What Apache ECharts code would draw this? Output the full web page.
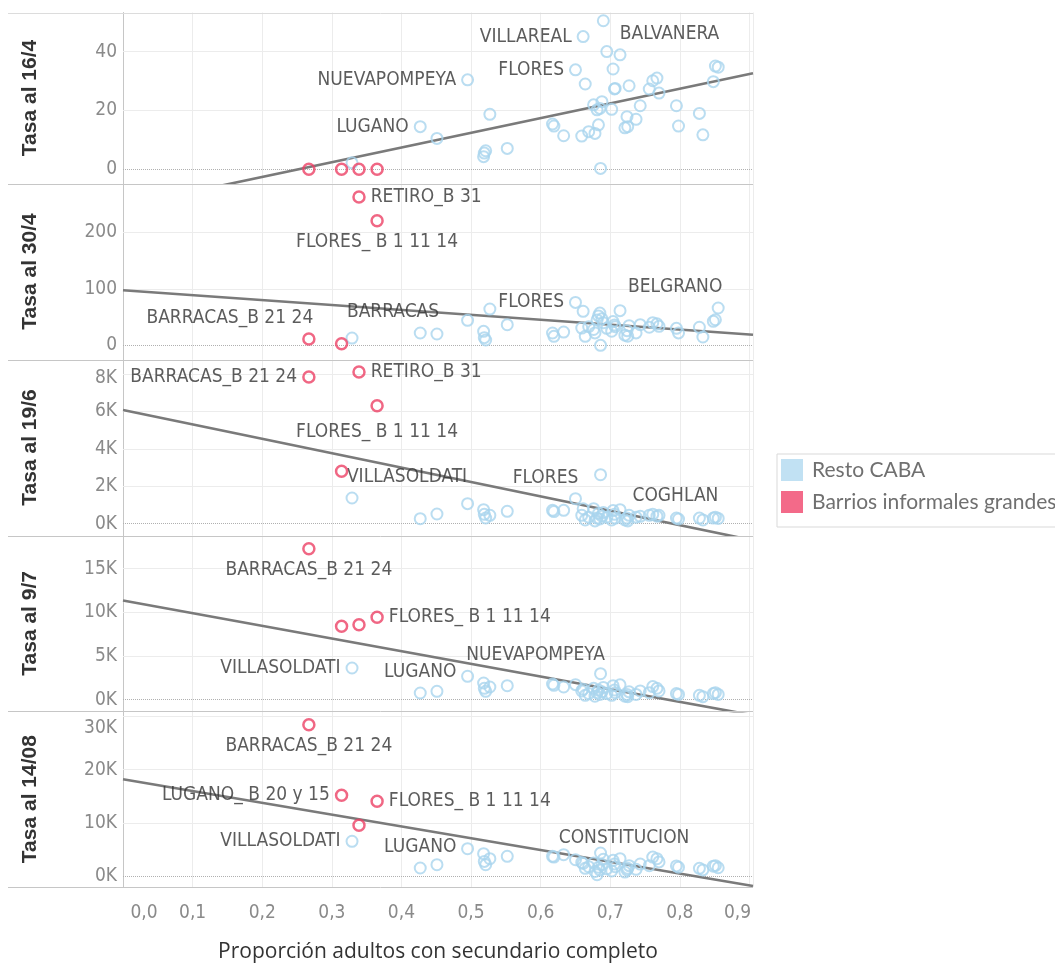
<!DOCTYPE html>
<html>
<head>
<meta charset="utf-8">
<script src="https://cdn.jsdelivr.net/npm/echarts@6/dist/echarts.min.js"></script>
<style>
  html, body { margin: 0; padding: 0; background: #ffffff; }
  #chart { width: 1055px; height: 966px; }
</style>
</head>
<body>
<div id="chart"></div>
<script>
// Proporción de adultos con secundario completo (eje X), por barrio
const proporcionResto = [0.329, 0.427, 0.451, 0.495, 0.518, 0.519, 0.521, 0.527, 0.552, 0.617,
  0.619, 0.633, 0.650, 0.659, 0.661, 0.664, 0.669, 0.676, 0.678, 0.681,
  0.683, 0.685, 0.686, 0.688, 0.690, 0.695, 0.702, 0.704, 0.706, 0.707,
  0.714, 0.721, 0.724, 0.725, 0.727, 0.737, 0.743, 0.756, 0.761, 0.767,
  0.770, 0.795, 0.798, 0.828, 0.833, 0.848, 0.851, 0.855];

// Tasas de casos del resto de CABA en cada fecha
const tasa164Resto = [2.2, 14.5, 10.5, 30.4, 4.3, 5.5, 6.3, 18.7, 7.1, 15.4,
  14.7, 11.4, 33.8, 11.3, 45.1, 29, 12.8, 21.9, 12.2, 20.2,
  15.1, 20.7, 0.3, 23, 50.5, 40, 20.4, 34.1, 27.3, 27.5,
  38.9, 14.1, 17.9, 14.5, 28.4, 17, 21.6, 27.3, 30.1, 31,
  25.9, 21.6, 14.7, 19, 11.7, 29.8, 35.1, 34.7];
const tasa304Resto = [12.9, 21.8, 20, 44.2, 24.7, 13.5, 9.4, 64.2, 36.5, 21.8,
  15.9, 23.5, 76, 30.6, 60.2, 15.9, 33, 28, 22, 45,
  52, 57, 0, 47, 40, 30, 25, 42, 36, 33,
  61.3, 18, 26, 16, 34.7, 22, 36.5, 32, 40, 38,
  33.6, 30, 22, 31.9, 14.7, 42.5, 45.3, 66];
const tasa196Resto = [1374, 267, 519, 1070, 749, 500, 305, 449, 663, 716,
  650, 716, 1337, 450, 800, 200, 350, 802, 150, 300,
  550, 250, 2620, 400, 600, 350, 200, 700, 500, 300,
  749, 200, 300, 150, 450, 350, 396, 450, 500, 400,
  450, 300, 250, 300, 200, 300, 350, 280];
const tasa97Resto = [3627, 767, 961, 2677, 1911, 1300, 961, 1453, 1602, 1796,
  1650, 1453, 1720, 1000, 1200, 500, 700, 1300, 400, 800,
  1100, 600, 2975, 900, 1400, 700, 500, 1600, 1100, 800,
  1700, 400, 600, 350, 900, 600, 1000, 800, 1500, 1300,
  1000, 700, 600, 500, 350, 700, 800, 600];
const tasa1408Resto = [6566, 1557, 2176, 5178, 4240, 2800, 2176, 3302, 3752, 3752,
  3600, 4052, 3115, 2600, 2400, 1500, 1800, 2500, 900, 300,
  1700, 1200, 4371, 2200, 3200, 1400, 1000, 3000, 2300, 1800,
  3300, 800, 1200, 1500, 2000, 1300, 2300, 2000, 3600, 3300,
  2700, 1950, 1700, 1500, 1200, 1900, 2000, 1600];

// Barrios informales grandes
const barriosInformales = ['BARRACAS_B 21 24', 'LUGANO_ B 20 y 15', 'RETIRO_B 31', 'FLORES_ B 1 11 14'];
const proporcionInformales = [0.267, 0.314, 0.339, 0.365];
const tasa164Informales = [0, 0, 0, 0];
const tasa304Informales = [11.2, 2.8, 262.5, 220.5];
const tasa196Informales = [7845, 2802, 8112, 6310];
const tasa97Informales = [17277, 8398, 8581, 9428];
const tasa1408Informales = [28443, 15197, 9568, 14071];

// Rectas de tendencia: valor en x = 0 y en x = 0,9
const tendenciaX = [0, 0.9];
const tendencia164 = [-12.6, 32.4];
const tendencia304 = [97.5, 19.2];
const tendencia196 = [6080, -850];
const tendencia97 = [11350, -1700];
const tendencia1408 = [18200, -1700];

// Títulos de fila y marcas de los ejes
const titulos = ['Tasa al 16/4', 'Tasa al 30/4', 'Tasa al 19/6', 'Tasa al 9/7', 'Tasa al 14/08'];
const marcasY164 = [0, 20, 40];
const marcasY304 = [0, 100, 200];
const marcasY196 = [0, 2000, 4000, 6000, 8000];
const marcasY97 = [0, 5000, 10000, 15000];
const marcasY1408 = [0, 10000, 20000, 30000];
const marcasX = [0, 0.1, 0.2, 0.3, 0.4, 0.5, 0.6, 0.7, 0.8, 0.9];

// Barrios rotulados en cada fila (índice -> nombre)
const rotulosResto = [
  { 1: 'LUGANO', 3: 'NUEVAPOMPEYA', 12: 'FLORES', 14: 'VILLAREAL', 24: 'BALVANERA' },
  { 0: 'BARRACAS', 12: 'FLORES', 47: 'BELGRANO' },
  { 0: 'VILLASOLDATI', 12: 'FLORES', 46: 'COGHLAN' },
  { 0: 'VILLASOLDATI', 1: 'LUGANO', 3: 'NUEVAPOMPEYA' },
  { 0: 'VILLASOLDATI', 1: 'LUGANO', 30: 'CONSTITUCION' }
];
const rotulosInformales = [[], [0, 2, 3], [0, 2, 3], [0, 3], [0, 1, 3]];

// ---------- layout and styling ----------
const NARROW = '"Liberation Sans Narrow", "DejaVu Sans Condensed", "Arial Narrow", sans-serif';
const AZUL = '#a9d4ed';
const ROJO = '#ec4165';
const GRIS_MARCA = '#8a8a8a';
const PLOT_LEFT = 123, PLOT_RIGHT = 753;
const X_MAX = 0.905;
const bordes = [12.5, 183.5, 359.5, 535.5, 711.3, 887];
const rangosY = [[-4.83, 53.3], [-25.1, 286.4], [-631, 8781], [-1327, 18787], [-2007, 30957]];
// top tick label of some rows is nudged down to stay inside its row
const bajarMarcaSuperior = [0, 0, 8, 0, 24];

const filasResto = [tasa164Resto, tasa304Resto, tasa196Resto, tasa97Resto, tasa1408Resto];
const filasInformales = [tasa164Informales, tasa304Informales, tasa196Informales, tasa97Informales, tasa1408Informales];
const filasTendencia = [tendencia164, tendencia304, tendencia196, tendencia97, tendencia1408];
const filasMarcas = [marcasY164, marcasY304, marcasY196, marcasY97, marcasY1408];

const ubicacion = {
  '0:LUGANO': { position: 'left' },
  '0:NUEVAPOMPEYA': { position: 'left' },
  '0:FLORES': { position: 'left' },
  '0:VILLAREAL': { position: 'left' },
  '0:BALVANERA': { position: 'right', offset: [5, 13] },
  '1:BARRACAS': { position: 'top', offset: [41, -5] },
  '1:FLORES': { position: 'left' },
  '1:BELGRANO': { position: 'top', offset: [-43, 0] },
  '1:BARRACAS_B 21 24': { position: 'top', offset: [-79, 0] },
  '1:RETIRO_B 31': { position: 'right' },
  '1:FLORES_ B 1 11 14': { position: 'bottom' },
  '2:VILLASOLDATI': { position: 'top', offset: [55, 0] },
  '2:FLORES': { position: 'top', offset: [-30, 0] },
  '2:COGHLAN': { position: 'top', offset: [-40, 0] },
  '2:BARRACAS_B 21 24': { position: 'left' },
  '2:RETIRO_B 31': { position: 'right' },
  '2:FLORES_ B 1 11 14': { position: 'bottom', offset: [0, 5] },
  '3:VILLASOLDATI': { position: 'left' },
  '3:LUGANO': { position: 'top' },
  '3:NUEVAPOMPEYA': { position: 'top', offset: [68, 0] },
  '3:BARRACAS_B 21 24': { position: 'bottom' },
  '3:FLORES_ B 1 11 14': { position: 'right' },
  '4:VILLASOLDATI': { position: 'left' },
  '4:LUGANO': { position: 'top' },
  '4:CONSTITUCION': { position: 'top', offset: [4, 0] },
  '4:BARRACAS_B 21 24': { position: 'bottom' },
  '4:LUGANO_ B 20 y 15': { position: 'left' },
  '4:FLORES_ B 1 11 14': { position: 'right' }
};

function rotulo(fila, nombre) {
  const u = ubicacion[fila + ':' + nombre] || { position: 'right' };
  return Object.assign({ show: true, formatter: nombre, distance: 5,
    fontFamily: NARROW, fontSize: 19, color: '#333333' }, u);
}

const grid = [], xAxis = [], yAxis = [], series = [];
for (let i = 0; i < 5; i++) {
  const ultima = i === 4;
  const marcas = filasMarcas[i];
  const tope = marcas[marcas.length - 1];
  grid.push({ left: PLOT_LEFT, width: PLOT_RIGHT - PLOT_LEFT, top: bordes[i], height: bordes[i + 1] - bordes[i] });

  xAxis.push({
    gridIndex: i, type: 'value', min: 0, max: X_MAX, interval: 0.1,
    axisLine: { show: false }, axisTick: { show: false },
    splitLine: { show: true, lineStyle: { color: '#ececec', width: 1 } },
    axisLabel: ultima ? {
      show: true, customValues: marcasX, margin: 17,
      formatter: v => {
        const t = v.toFixed(1).replace('.', ',');
        if (v === 0) return '{a|' + t + '}';
        if (Math.abs(v - 0.9) < 1e-9) return '{z|' + t + '}';
        return t;
      },
      fontFamily: NARROW, fontSize: 19, color: GRIS_MARCA,
      rich: {
        a: { fontFamily: NARROW, fontSize: 19, color: GRIS_MARCA, padding: [0, 0, 0, 42] },
        z: { fontFamily: NARROW, fontSize: 19, color: GRIS_MARCA, padding: [0, 24, 0, 0] }
      }
    } : { show: false },
    name: ultima ? 'Proporción adultos con secundario completo' : '',
    nameLocation: 'middle', nameGap: 55,
    nameTextStyle: { fontFamily: '"Open Sans", sans-serif', fontSize: 21, color: '#333333' }
  });

  const texto = v => (i >= 2 ? (v / 1000) + 'K' : String(v));
  yAxis.push({
    gridIndex: i, type: 'value', min: rangosY[i][0], max: rangosY[i][1],
    axisLine: { show: true, lineStyle: { color: '#c6c6c6', width: 1 } },
    axisTick: { show: false },
    splitLine: { show: false },
    axisLabel: {
      customValues: marcas, margin: 6,
      formatter: v => (v === tope && bajarMarcaSuperior[i] ? '{b|' + texto(v) + '}' : texto(v)),
      fontFamily: NARROW, fontSize: 19, color: GRIS_MARCA,
      rich: { b: { fontFamily: NARROW, fontSize: 19, color: GRIS_MARCA, padding: [bajarMarcaSuperior[i], 0, 0, 0] } }
    },
    name: titulos[i], nameLocation: 'middle', nameGap: 82, nameRotate: 90,
    nameTextStyle: { fontFamily: '"Liberation Sans", Arial, sans-serif', fontSize: 21, fontWeight: 'bold', color: '#333333' }
  });

  // horizontal grid lines and dotted zero line
  const guias = marcas.filter(v => v !== 0).map(v => ({ yAxis: v, lineStyle: { color: '#ececec', width: 1, type: 'solid' } }));
  guias.push({ yAxis: 0, lineStyle: { color: '#b0b0b0', width: 1, type: 'dotted' } });

  // trend line extended across the whole axis range
  const tr = filasTendencia[i];
  const pend = (tr[1] - tr[0]) / (tendenciaX[1] - tendenciaX[0]);
  const yFin = tr[0] + pend * (X_MAX - tendenciaX[0]);
  series.push({
    type: 'line', xAxisIndex: i, yAxisIndex: i, z: 2,
    data: [[tendenciaX[0], tr[0]], [X_MAX, yFin]],
    showSymbol: false, symbol: 'none', clip: true, silent: true,
    lineStyle: { color: '#7a7a7a', width: 2.6 },
    markLine: { silent: true, symbol: 'none', label: { show: false }, animation: false, z: 1, data: guias }
  });

  const resto = filasResto[i];
  series.push({
    name: 'Resto CABA', type: 'scatter', xAxisIndex: i, yAxisIndex: i, z: 3,
    symbol: 'circle', symbolSize: 11,
    itemStyle: { color: 'rgba(255,255,255,0)', borderColor: AZUL, borderWidth: 2 },
    label: { show: false },
    data: proporcionResto.map((x, k) => {
      const d = { value: [x, resto[k]] };
      const nom = rotulosResto[i][k];
      if (nom) d.label = rotulo(i, nom);
      return d;
    })
  });

  const inf = filasInformales[i];
  series.push({
    name: 'Barrios informales grandes', type: 'scatter', xAxisIndex: i, yAxisIndex: i, z: 4,
    symbol: 'circle', symbolSize: 11,
    itemStyle: { color: 'rgba(255,255,255,0)', borderColor: ROJO, borderWidth: 2.5 },
    label: { show: false },
    data: proporcionInformales.map((x, k) => {
      const d = { value: [x, inf[k]] };
      if (rotulosInformales[i].indexOf(k) >= 0) d.label = rotulo(i, barriosInformales[k]);
      return d;
    })
  });
}

// row separators of the panel frame
const graphic = bordes.map((y, j) => ({
  type: 'line', silent: true, z: 10,
  shape: { x1: 8, y1: Math.round(y) + 0.5, x2: PLOT_RIGHT, y2: Math.round(y) + 0.5 },
  style: { stroke: j === 0 ? '#dcdcdc' : '#c6c6c6', lineWidth: 1 }
}));

const chart = echarts.init(document.getElementById('chart'), null, { renderer: 'canvas' });
chart.setOption({
  animation: false,
  backgroundColor: '#ffffff',
  grid, xAxis, yAxis, series, graphic,
  legend: {
    orient: 'vertical', left: 777, top: 454,
    itemWidth: 22, itemHeight: 22, itemGap: 10,
    padding: [5, 40, 14, 4],
    borderColor: '#d9d9d9', borderWidth: 1, backgroundColor: '#ffffff',
    selectedMode: false, icon: 'rect',
    textStyle: { fontFamily: 'Lato, sans-serif', fontSize: 21, color: '#707070', padding: [0, 0, 0, 4] },
    data: [
      { name: 'Resto CABA', itemStyle: { color: '#b1daf0', borderWidth: 0 } },
      { name: 'Barrios informales grandes', itemStyle: { color: '#f0456b', borderWidth: 0 } }
    ]
  }
});
</script>
</body>
</html>
